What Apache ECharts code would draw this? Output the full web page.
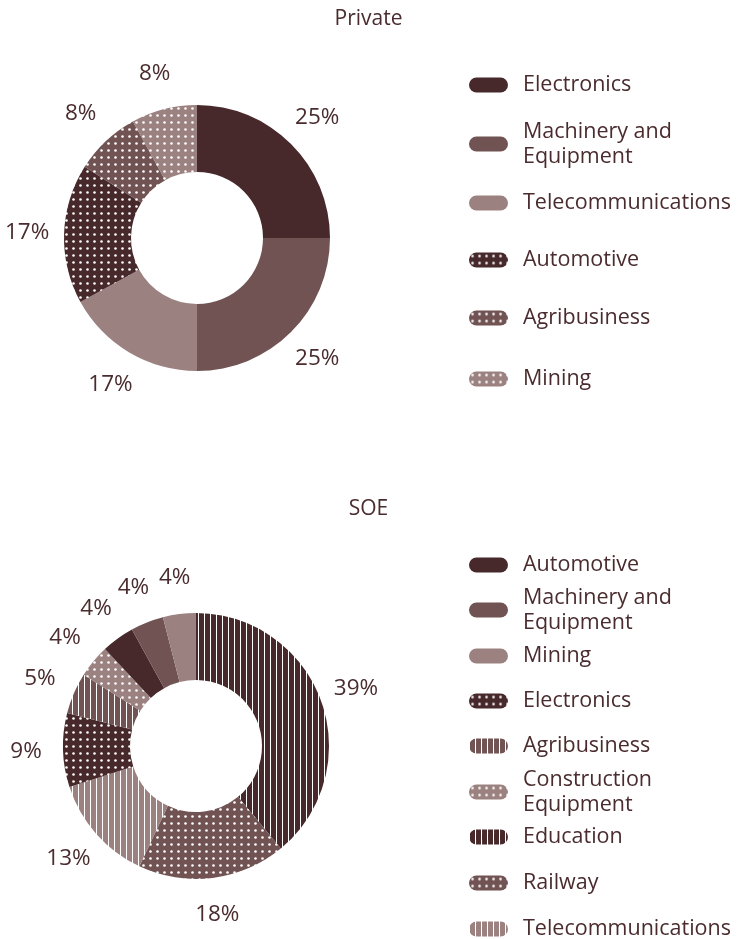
<!DOCTYPE html>
<html>
<head>
<meta charset="utf-8">
<script src="https://cdn.jsdelivr.net/npm/echarts@6/dist/echarts.min.js"></script>
<style>
  body { margin: 0; background: #fff; }
  #top { width: 737px; height: 470px; }
  #bottom { width: 737px; height: 469px; }
</style>
</head>
<body>
<div id="top"></div>
<div id="bottom"></div>
<script>
// Private sector shares (%), clockwise from 12 o'clock
const privateNames = ['Electronics', 'Machinery and Equipment', 'Telecommunications', 'Automotive', 'Agribusiness', 'Mining'];
const privateValues = [25, 25, 17, 17, 8, 8];

// SOE shares (%), clockwise from 12 o'clock
const soeNames = ['Education', 'Railway', 'Telecommunications', 'Electronics', 'Agribusiness', 'Construction Equipment', 'Automotive', 'Machinery and Equipment', 'Mining'];
const soeValues = [39, 18, 13, 9, 5, 4, 4, 4, 4];
// SOE legend order
const soeLegend = ['Automotive', 'Machinery and Equipment', 'Mining', 'Electronics', 'Agribusiness', 'Construction Equipment', 'Education', 'Railway', 'Telecommunications'];

const DARK = '#47292b';
const MID = '#715353';
const LIGHT = '#9b8180';
const TEXT = '#4a2c2e';
const FONT = 'Open Sans';

function makeFill(color, kind) {
  if (kind === 'solid') return color;
  var c = document.createElement('canvas');
  var ctx = c.getContext('2d');
  if (kind === 'dots') {
    c.width = 7; c.height = 7;
    ctx.fillStyle = color;
    ctx.fillRect(0, 0, 7, 7);
    ctx.fillStyle = '#ffffff';
    ctx.beginPath();
    ctx.arc(3.5, 3.5, 1.3, 0, Math.PI * 2);
    ctx.fill();
  } else {
    c.width = 6; c.height = 6;
    ctx.fillStyle = color;
    ctx.fillRect(0, 0, 6, 6);
    ctx.fillStyle = '#ffffff';
    ctx.fillRect(0, 0, 1, 6);
  }
  return { image: c, repeat: 'repeat' };
}

const privateFills = {
  'Electronics': makeFill(DARK, 'solid'),
  'Machinery and Equipment': makeFill(MID, 'solid'),
  'Telecommunications': makeFill(LIGHT, 'solid'),
  'Automotive': makeFill(DARK, 'dots'),
  'Agribusiness': makeFill(MID, 'dots'),
  'Mining': makeFill(LIGHT, 'dots')
};
const soeFills = {
  'Automotive': makeFill(DARK, 'solid'),
  'Machinery and Equipment': makeFill(MID, 'solid'),
  'Mining': makeFill(LIGHT, 'solid'),
  'Electronics': makeFill(DARK, 'dots'),
  'Agribusiness': makeFill(MID, 'lines'),
  'Construction Equipment': makeFill(LIGHT, 'dots'),
  'Education': makeFill(DARK, 'lines'),
  'Railway': makeFill(MID, 'dots'),
  'Telecommunications': makeFill(LIGHT, 'lines')
};

const wrapped = {
  'Machinery and Equipment': 'Machinery and\nEquipment',
  'Construction Equipment': 'Construction\nEquipment'
};

const pill = 'path://M7.5,0 L31.5,0 A7.5,7.5 0 0 1 31.5,15 L7.5,15 A7.5,7.5 0 0 1 7.5,0 Z';

function buildLegends(names, centers) {
  return names.map(function (n, i) {
    var lines = wrapped[n] ? 2 : 1;
    return {
      orient: 'vertical',
      left: 464,
      top: centers[i] - lines * 12.5 - 3,
      data: [n],
      icon: pill,
      itemWidth: 39,
      itemHeight: 15,
      formatter: function (name) { return wrapped[name] || name; },
      textStyle: {
        color: TEXT,
        fontFamily: FONT,
        fontSize: 21.5,
        lineHeight: 25,
        padding: [0, 0, 0, 10]
      }
    };
  });
}

function buildOption(title, titleTop, names, values, fills, legendNames, legendCenters, center) {
  var data = names.map(function (n, i) {
    return { name: n, value: values[i], itemStyle: { color: fills[n] } };
  });
  var ringData = names.map(function (n, i) {
    return { name: n, value: values[i] };
  });
  return {
    animation: false,
    title: {
      text: title,
      left: 'center',
      top: titleTop,
      textStyle: { color: TEXT, fontFamily: FONT, fontSize: 21, fontWeight: 'normal' }
    },
    legend: buildLegends(legendNames, legendCenters),
    series: [
      {
        type: 'pie',
        center: center,
        radius: [66, 133],
        startAngle: 90,
        clockwise: true,
        label: { show: false },
        labelLine: { show: false },
        emphasis: { scale: false },
        data: data
      },
      {
        // transparent ring used only to place percentage labels
        type: 'pie',
        center: center,
        radius: [159, 175],
        startAngle: 90,
        clockwise: true,
        silent: true,
        legendHoverLink: false,
        itemStyle: { color: 'rgba(0,0,0,0)' },
        label: {
          show: true,
          position: 'inside',
          formatter: function (p) { return p.value + '%'; },
          color: TEXT,
          fontFamily: FONT,
          fontSize: 22.5
        },
        labelLine: { show: false },
        data: ringData
      }
    ]
  };
}

var topChart = echarts.init(document.getElementById('top'));
topChart.setOption(buildOption('Private', 4, privateNames, privateValues, privateFills,
  privateNames, [83, 142, 201, 258, 316, 377], [197, 238]));

var bottomChart = echarts.init(document.getElementById('bottom'));
bottomChart.setOption(buildOption('SOE', 24, soeNames, soeValues, soeFills,
  soeLegend, [93, 138, 184, 229, 274, 320, 365, 411, 457], [196, 276]));
</script>
</body>
</html>
